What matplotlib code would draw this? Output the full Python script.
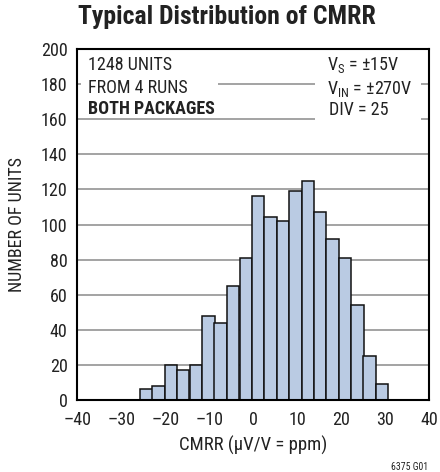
import matplotlib
matplotlib.use("Agg")
import matplotlib.pyplot as plt
from matplotlib.patches import Rectangle

plt.rcParams['font.family'] = ['Roboto Condensed', 'PT Sans Narrow', 'DejaVu Sans']
plt.rcParams['mathtext.fontset'] = 'custom'
plt.rcParams['mathtext.rm'] = 'Roboto Condensed'
plt.rcParams['mathtext.it'] = 'Roboto Condensed'

# histogram bins (left edge, uV/V) and counts
bin_left = [-25.7, -22.9, -20.1, -17.3, -14.4, -11.6, -8.8, -6.0, -3.1, -0.3,
            2.5, 5.4, 8.2, 11.0, 13.8, 16.6, 19.5, 22.3, 25.1, 27.9]
bin_width = 2.82
counts = [6, 8, 20, 17, 20, 48, 44, 65, 81, 116,
          104, 102, 119, 125, 107, 92, 81, 54, 25, 9]

xticks = [-40, -30, -20, -10, 0, 10, 20, 30, 40]
yticks = [0, 20, 40, 60, 80, 100, 120, 140, 160, 180, 200]

fig = plt.figure(figsize=(4.4, 4.72), dpi=100)
ax = fig.add_axes([77.3 / 440, 72 / 472, 351.7 / 440, 351 / 472])

for yv in yticks[1:-1]:
    ax.axhline(yv, color='#8a8a8a', lw=1.1, zorder=0.5)

# white panels behind the notes
ax.add_patch(Rectangle((0.01, 0.85), 0.39, 0.15, transform=ax.transAxes,
                       facecolor='white', edgecolor='none', zorder=1))
ax.add_patch(Rectangle((0.676, 0.78), 0.30, 0.22, transform=ax.transAxes,
                       facecolor='white', edgecolor='none', zorder=1))

ax.bar(bin_left, counts, width=bin_width, align='edge', color='#bacbe3',
       edgecolor='#111111', linewidth=1.1, zorder=2)

ax.set_xlim(-40, 40)
ax.set_ylim(0, 200)
ax.set_xticks(xticks)
ax.set_xticklabels([str(t).replace('-', '\u2013') for t in xticks])
ax.set_yticks(yticks)
ax.tick_params(length=0, labelsize=13, labelcolor='#222222')
ax.tick_params(axis='x', pad=8)
ax.tick_params(axis='y', pad=7)
for s in ax.spines.values():
    s.set_linewidth(1.5)
    s.set_zorder(3)

ax.set_xlabel('CMRR (\u03bcV/V = ppm)', fontsize=13.5, labelpad=5, color='#222222')
ax.set_ylabel('NUMBER OF UNITS', fontsize=13, labelpad=11, color='#222222')

fs = 13
ax.text(0.03, 0.955, '1248 UNITS', transform=ax.transAxes, fontsize=fs,
        va='center', zorder=4, color='#222222')
ax.text(0.03, 0.89, 'FROM 4 RUNS', transform=ax.transAxes, fontsize=fs,
        va='center', zorder=4, color='#222222')
ax.text(0.03, 0.83, 'BOTH PACKAGES', transform=ax.transAxes, fontsize=fs,
        va='center', fontweight='bold', zorder=4, color='#222222')
ax.text(0.71, 0.955, '$\\mathregular{V_S}$ = \u00b115V', transform=ax.transAxes,
        fontsize=fs, va='center', zorder=4, color='#222222')
ax.text(0.71, 0.885, '$\\mathregular{V_{IN}}$ = \u00b1270V', transform=ax.transAxes,
        fontsize=fs, va='center', zorder=4, color='#222222')
ax.text(0.715, 0.825, 'DIV = 25', transform=ax.transAxes, fontsize=fs,
        va='center', zorder=4, color='#222222')

fig.text(227 / 440, 1 - 17 / 472, 'Typical Distribution of CMRR', fontsize=18.5,
         fontweight='bold', ha='center', va='center', color='#222222')
fig.text(428 / 440, 1 - 467 / 472, '6375 G01', fontsize=7, ha='right',
         va='center', color='#222222')

fig.savefig('out.png', dpi=100)
